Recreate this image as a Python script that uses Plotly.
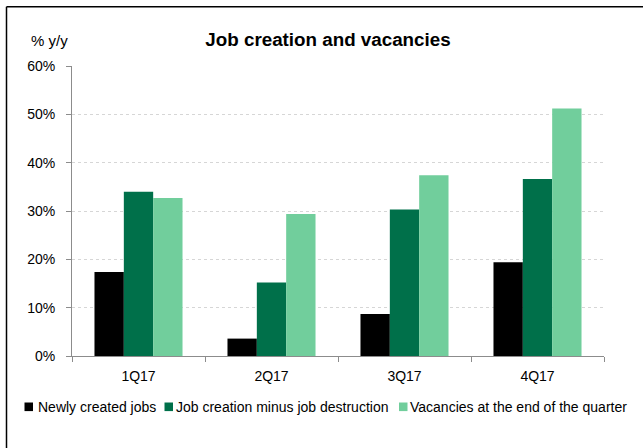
import plotly.graph_objects as go

# Quarterly job market indicators, % y/y
quarters = ["1Q17", "2Q17", "3Q17", "4Q17"]
newly_created = [17.4, 3.6, 8.7, 19.4]
net_creation = [34.0, 15.2, 30.3, 36.6]
vacancies = [32.7, 29.4, 37.4, 51.2]

series_names = [
    "Newly created jobs",
    "Job creation minus job destruction",
    "Vacancies at the end of the quarter",
]
series_values = [newly_created, net_creation, vacancies]
series_colors = ["#000000", "#00704A", "#71CE9C"]

y_ticks = [0, 10, 20, 30, 40, 50, 60]
y_tick_labels = ["0%", "10%", "20%", "30%", "40%", "50%", "60%"]

FONT = "Liberation Sans, Arial, sans-serif"

# Plot-area geometry in pixels (used to place frame, legend and labels)
W, H = 643, 448
L, R, T, B = 72, 39, 66, 92
PW, PH = W - L - R, H - T - B


def px_x(p):
    return (p - L) / PW


def px_y(p):
    return (H - B - p) / PH


fig = go.Figure()
for name, vals, col in zip(series_names, series_values, series_colors):
    fig.add_trace(go.Bar(
        x=quarters, y=vals, name=name,
        marker=dict(color=col, line=dict(width=0)),
        showlegend=False,
    ))

# Frame lines (top and left)
shapes = [
    dict(type="line", xref="paper", yref="paper",
         x0=px_x(6.5), x1=px_x(W + 2), y0=px_y(6.8), y1=px_y(6.8),
         line=dict(color="#000000", width=1.5)),
    dict(type="line", xref="paper", yref="paper",
         x0=px_x(6.5), x1=px_x(6.5), y0=px_y(6.8), y1=px_y(H + 2),
         line=dict(color="#000000", width=1.5)),
]

# Legend: colour squares with labels
legend_sq_x = [24.5, 164.5, 399]
legend_txt_x = [35.5, 174, 407.5]
legend_cy = 406.8
annotations = []
for name, col, sx, tx in zip(series_names, series_colors, legend_sq_x, legend_txt_x):
    shapes.append(dict(
        type="rect", xref="paper", yref="paper",
        x0=px_x(sx), x1=px_x(sx + 8.5),
        y0=px_y(legend_cy - 4.3), y1=px_y(legend_cy + 4.3),
        fillcolor=col, line=dict(width=0),
    ))
    annotations.append(dict(
        text=name, xref="paper", yref="paper",
        x=px_x(tx), y=px_y(legend_cy), xanchor="left", yanchor="middle",
        showarrow=False, font=dict(family=FONT, size=14, color="#000000"),
    ))

annotations.append(dict(
    text="% y/y", xref="paper", yref="paper",
    x=px_x(29), y=px_y(40), xanchor="left", yanchor="middle",
    showarrow=False, font=dict(family=FONT, size=15, color="#000000"),
))

fig.update_layout(
    width=W, height=H,
    margin=dict(l=L, r=R, t=T, b=B, pad=0),
    paper_bgcolor="#FFFFFF",
    plot_bgcolor="#FFFFFF",
    barmode="group",
    bargap=0.338,
    bargroupgap=0,
    font=dict(family=FONT, size=14, color="#000000"),
    title=dict(
        text="<b>Job creation and vacancies</b>",
        font=dict(family=FONT, size=18.8, color="#000000"),
        xref="paper", x=px_x(328), xanchor="center",
        yref="container", y=1 - 39.5 / H, yanchor="middle",
    ),
    xaxis=dict(
        showline=True, linecolor="#8C8C8C", linewidth=1,
        ticks="outside", ticklen=5, tickcolor="#8C8C8C",
        tickson="boundaries", showgrid=False,
        tickfont=dict(family=FONT, size=14, color="#000000"),
        ticklabelstandoff=7,
    ),
    yaxis=dict(
        range=[0, 60], tickmode="array",
        tickvals=y_ticks, ticktext=y_tick_labels,
        showline=True, linecolor="#8C8C8C", linewidth=1,
        ticks="outside", ticklen=5, tickcolor="#8C8C8C",
        showgrid=True, gridcolor="#D6D6D6", griddash="dot", gridwidth=1,
        zeroline=False,
        tickfont=dict(family=FONT, size=14, color="#000000"),
        ticklabelstandoff=8,
    ),
    shapes=shapes,
    annotations=annotations,
)

fig.write_html("out.html")
